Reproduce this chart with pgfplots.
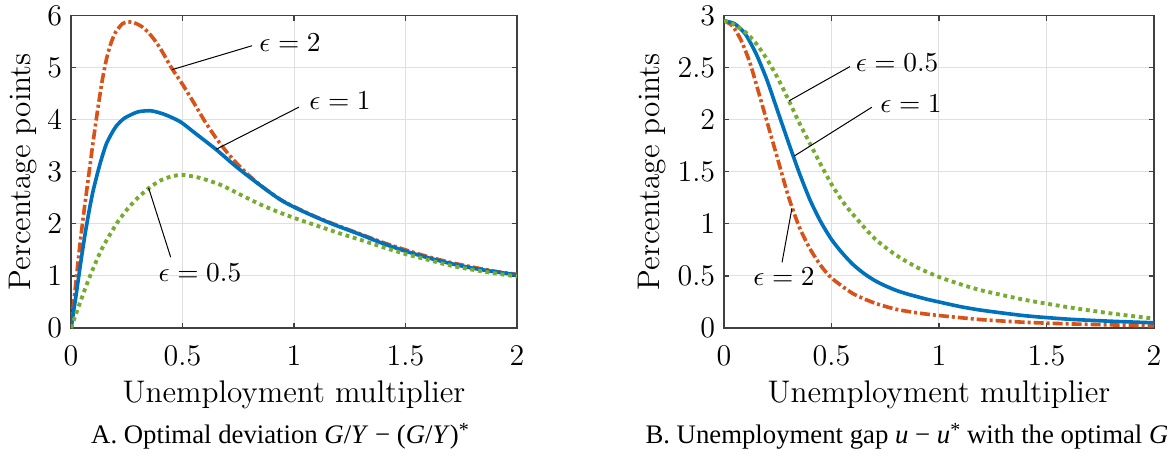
\documentclass[border=0pt]{standalone}
\usepackage{fontspec}
\usepackage{pgfplots}
\pgfplotsset{compat=1.18}
\newfontfamily\capfont{Liberation Serif}
\definecolor{mblue}{rgb}{0,0.447,0.741}
\definecolor{morange}{rgb}{0.85,0.325,0.098}
\definecolor{mgreen}{rgb}{0.466,0.674,0.188}
\pgfplotsset{mstyle/.style={
  scale only axis,
  axis line style={black!75, line width=0.5pt},
  xmin=0, xmax=2, ymin=0,
  xtick={0,0.5,1,1.5,2},
  tick align=inside, major tick length=2pt,
  tick style={black!75, line width=0.5pt},
  grid=major, grid style={black!12, line width=0.4pt},
  ticklabel style={font=\fontsize{12.5}{15}\selectfont},
  label style={font=\fontsize{12.5}{15}\selectfont},
  xlabel={Unemployment multiplier}, ylabel={Percentage points},
  xlabel style={at={(axis description cs:0.5,-0.237)}, anchor=base},
  xticklabel style={anchor=base, yshift=-14.8pt},
  clip=true,
},
  ce2/.style={morange, line width=1.45pt, smooth, tension=0.4, dash pattern=on 4pt off 1.2pt on 1.2pt off 1.2pt},
  ce1/.style={mblue, line width=1.45pt, smooth, tension=0.4, solid},
  ce05/.style={mgreen, line width=1.55pt, smooth, tension=0.4, dash pattern=on 1.55pt off 1.5pt},
}
\tikzset{ann/.style={font=\fontsize{11.4}{13}\selectfont, inner sep=0pt}}
\newcommand\capstar{\raisebox{0.28em}{\fontsize{8}{9}\selectfont *}}
\begin{document}
\begin{tikzpicture}
\useasboundingbox (0,0) rectangle (466.8pt,-186pt);
% Panel A
\begin{axis}[mstyle, at={(28.4pt,-131.2pt)}, anchor=south west,
  width=178.4pt, height=125pt, ymax=6, ytick={0,1,2,3,4,5,6},
  ylabel style={at={(axis description cs:-0.1076,0.5)}, anchor=center}]
\addplot[ce2] coordinates {(0,0) (0.02,0.8) (0.04,1.6) (0.06,2.3) (0.08,2.95) (0.1,3.6) (0.12,4.2) (0.14,4.75) (0.16,5.18) (0.18,5.48) (0.2,5.68) (0.23,5.84) (0.256,5.88) (0.29,5.85) (0.32,5.78) (0.35,5.66) (0.38,5.5) (0.41,5.3) (0.45,5.0) (0.5,4.68) (0.55,4.33) (0.6,3.97) (0.65,3.65) (0.7,3.37) (0.75,3.13) (0.8,2.92) (0.85,2.74) (0.9,2.58) (0.95,2.44) (1.0,2.33) (1.1,2.13) (1.2,1.96) (1.3,1.8) (1.4,1.64) (1.5,1.5) (1.6,1.37) (1.7,1.26) (1.8,1.17) (1.9,1.09) (2.0,1.03)};
\addplot[ce1] coordinates {(0,0) (0.02,0.55) (0.04,1.15) (0.06,1.72) (0.08,2.22) (0.1,2.65) (0.13,3.15) (0.16,3.55) (0.2,3.86) (0.24,4.03) (0.3,4.15) (0.36,4.17) (0.42,4.1) (0.49,3.96) (0.56,3.73) (0.65,3.43) (0.74,3.1) (0.83,2.8) (0.94,2.46) (1.04,2.24) (1.17,2.0) (1.3,1.79) (1.4,1.62) (1.5,1.475) (1.6,1.35) (1.7,1.24) (1.8,1.15) (1.9,1.08) (2.0,1.02)};
\addplot[ce05] coordinates {(0,0) (0.02,0.24) (0.04,0.48) (0.07,0.83) (0.1,1.15) (0.136,1.5) (0.17,1.76) (0.21,2.04) (0.256,2.3) (0.3,2.5) (0.35,2.69) (0.4,2.83) (0.45,2.91) (0.5,2.94) (0.58,2.88) (0.67,2.75) (0.76,2.56) (0.85,2.37) (0.94,2.21) (1.03,2.07) (1.12,1.94) (1.21,1.81) (1.3,1.69) (1.4,1.55) (1.5,1.42) (1.6,1.31) (1.7,1.2) (1.8,1.12) (1.9,1.05) (2.0,0.99)};
\draw[black, line width=0.4pt] (axis cs:0.812,5.42) -- (axis cs:0.453,4.96);
\node[ann] at (axis cs:0.982,5.47) {$\epsilon = 2$};
\draw[black, line width=0.4pt] (axis cs:1.022,4.24) -- (axis cs:0.65,3.43);
\node[ann] at (axis cs:1.206,4.36) {$\epsilon = 1$};
\draw[black, line width=0.4pt] (axis cs:0.447,1.36) -- (axis cs:0.348,2.69);
\node[ann] at (axis cs:0.578,1.06) {$\epsilon = 0.5$};
\end{axis}
% Panel B
\begin{axis}[mstyle, at={(289.6pt,-131.2pt)}, anchor=south west,
  width=172pt, height=125pt, ymax=3, ytick={0,0.5,1,1.5,2,2.5,3},
  ylabel style={at={(axis description cs:-0.167,0.5)}, anchor=center}]
\addplot[ce2] coordinates {(0,2.95) (0.04,2.9) (0.08,2.76) (0.12,2.55) (0.16,2.27) (0.2,1.98) (0.25,1.62) (0.3,1.26) (0.35,0.97) (0.4,0.76) (0.45,0.6) (0.5,0.48) (0.6,0.33) (0.7,0.24) (0.8,0.18) (0.9,0.145) (1.0,0.12) (1.2,0.08) (1.4,0.055) (1.6,0.04) (1.8,0.03) (2.0,0.02)};
\addplot[ce1] coordinates {(0,2.95) (0.05,2.92) (0.1,2.82) (0.15,2.63) (0.2,2.38) (0.25,2.08) (0.3,1.78) (0.35,1.49) (0.4,1.23) (0.45,1.02) (0.5,0.85) (0.55,0.72) (0.6,0.61) (0.65,0.525) (0.7,0.457) (0.75,0.405) (0.8,0.362) (0.85,0.328) (0.9,0.30) (0.95,0.273) (1.0,0.25) (1.1,0.205) (1.2,0.17) (1.4,0.118) (1.6,0.085) (1.8,0.065) (2.0,0.05)};
\addplot[ce05] coordinates {(0,2.95) (0.05,2.91) (0.1,2.84) (0.15,2.73) (0.2,2.58) (0.25,2.4) (0.3,2.19) (0.35,1.97) (0.4,1.77) (0.45,1.57) (0.5,1.38) (0.55,1.22) (0.6,1.09) (0.7,0.86) (0.8,0.7) (0.9,0.58) (1.0,0.49) (1.1,0.42) (1.2,0.36) (1.4,0.27) (1.6,0.2) (1.8,0.14) (2.0,0.09)};
\draw[black, line width=0.4pt] (axis cs:0.586,2.51) -- (axis cs:0.302,2.18);
\node[ann] at (axis cs:0.805,2.55) {$\epsilon = 0.5$};
\draw[black, line width=0.4pt] (axis cs:0.688,2.12) -- (axis cs:0.326,1.65);
\node[ann] at (axis cs:0.870,2.15) {$\epsilon = 1$};
\draw[black, line width=0.4pt] (axis cs:0.270,0.63) -- (axis cs:0.316,1.15);
\node[ann] at (axis cs:0.279,0.49) {$\epsilon = 2$};
\end{axis}
\node[anchor=base, font=\capfont\fontsize{10.7}{12}\selectfont] at (112pt,-177.5pt)
  {A. Optimal deviation \textit{G}/\textit{Y} − (\textit{G}/\textit{Y})\capstar};
\node[anchor=base west, inner sep=0pt, font=\capfont\fontsize{10.7}{12}\selectfont] at (258pt,-177.5pt)
  {B. Unemployment gap \textit{u} − \textit{u}\capstar{} with the optimal \textit{G}};
\end{tikzpicture}
\end{document}
